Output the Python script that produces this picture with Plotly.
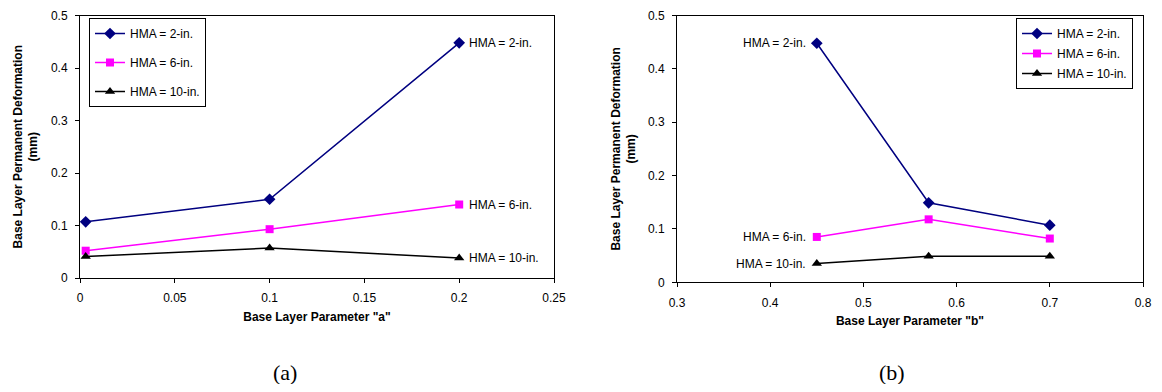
import plotly.graph_objects as go

# ---- data ----
a_x = [0.003, 0.1, 0.2]
a_hma2 = [0.107, 0.150, 0.448]
a_hma6 = [0.052, 0.093, 0.140]
a_hma10 = [0.041, 0.057, 0.038]

b_x = [0.45, 0.57, 0.70]
b_hma2 = [0.448, 0.149, 0.107]
b_hma6 = [0.085, 0.118, 0.082]
b_hma10 = [0.035, 0.049, 0.049]

names = ["HMA = 2-in.", "HMA = 6-in.", "HMA = 10-in."]
colors = ["#000080", "#FF00FF", "#000000"]
symbols = ["diamond", "square", "triangle-up"]
msizes = [9, 8, 9]

OFF = 8  # page body margin
W, H = 1162 - OFF, 392 - 2 * OFF
FONT = "Liberation Sans, Arial, sans-serif"

fig = go.Figure()

for i, ys in enumerate([a_hma2, a_hma6, a_hma10]):
    fig.add_trace(go.Scatter(
        x=a_x, y=ys, mode="lines+markers", name=names[i],
        line=dict(color=colors[i], width=1.5),
        marker=dict(symbol=symbols[i], size=msizes[i], color=colors[i]),
        xaxis="x", yaxis="y", legend="legend", legendgroup="a%d" % i,
        cliponaxis=False))

for i, ys in enumerate([b_hma2, b_hma6, b_hma10]):
    fig.add_trace(go.Scatter(
        x=b_x, y=ys, mode="lines+markers", name=names[i],
        line=dict(color=colors[i], width=1.5),
        marker=dict(symbol=symbols[i], size=msizes[i], color=colors[i]),
        xaxis="x2", yaxis="y2", legend="legend2", legendgroup="b%d" % i,
        cliponaxis=False))

def px_x(p):
    return (p - OFF) / W

def px_y(p):
    return 1 - (p - OFF) / H

ax_common = dict(showline=True, linecolor="black", linewidth=1, mirror=True,
                 showgrid=False, zeroline=False, ticks="outside", ticklen=4,
                 automargin=False, ticklabelstandoff=5, ticklabeloverflow="allow",
                 tickcolor="black", tickfont=dict(family=FONT, size=12, color="black"))

ytitle = "Base Layer Permanent Deformation<br>(mm)"
TOP = 15.5

fig.update_layout(
    width=W, height=H,
    margin=dict(l=0, r=0, t=0, b=0),
    paper_bgcolor="white", plot_bgcolor="white",
    font=dict(family=FONT, size=12, color="black"),
    xaxis=dict(domain=[px_x(80), px_x(554)], range=[0, 0.25], tickvals=[0, 0.05, 0.1, 0.15, 0.2, 0.25],
               ticktext=["0", "0.05", "0.1", "0.15", "0.2", "0.25"], anchor="y",
               title=dict(text="<b>Base Layer Parameter \"a\"</b>", font=dict(size=12), standoff=8),
               **ax_common),
    yaxis=dict(domain=[px_y(278), px_y(TOP)], range=[0, 0.5], tickvals=[0, 0.1, 0.2, 0.3, 0.4, 0.5],
               ticktext=["0", "0.1", "0.2", "0.3", "0.4", "0.5"], anchor="x",
               title=dict(text="<b>" + ytitle + "</b>", font=dict(size=12), standoff=10),
               **ax_common),
    xaxis2=dict(domain=[px_x(677), px_x(1143)], range=[0.3, 0.8], tickvals=[0.3, 0.4, 0.5, 0.6, 0.7, 0.8],
                ticktext=["0.3", "0.4", "0.5", "0.6", "0.7", "0.8"], anchor="y2",
                title=dict(text="<b>Base Layer Parameter \"b\"</b>", font=dict(size=12), standoff=7),
                **ax_common),
    yaxis2=dict(domain=[px_y(282.3), px_y(TOP)], range=[0, 0.5], tickvals=[0, 0.1, 0.2, 0.3, 0.4, 0.5],
                ticktext=["0", "0.1", "0.2", "0.3", "0.4", "0.5"], anchor="x2",
                title=dict(text="<b>" + ytitle + "</b>", font=dict(size=12), standoff=9),
                **ax_common),
    legend=dict(x=px_x(89), y=px_y(18), xanchor="left", yanchor="top",
                bordercolor="black", borderwidth=1, bgcolor="white",
                font=dict(family=FONT, size=12, color="black"),
                tracegroupgap=10, itemwidth=30, traceorder="grouped"),
    legend2=dict(x=px_x(1016), y=px_y(18), xanchor="left", yanchor="top",
                 bordercolor="black", borderwidth=1, bgcolor="white",
                 font=dict(family=FONT, size=12, color="black"),
                 tracegroupgap=1, itemwidth=30, traceorder="grouped"),
    showlegend=True,
)

ann = []
# labels at right of last points in (a)
for i, ys in enumerate([a_hma2, a_hma6, a_hma10]):
    ann.append(dict(x=a_x[-1], y=ys[-1], xref="x", yref="y", text=names[i],
                    showarrow=False, xanchor="left", yanchor="middle", xshift=8,
                    font=dict(family=FONT, size=12, color="black")))
# labels at left of first points in (b)
for i, ys in enumerate([b_hma2, b_hma6, b_hma10]):
    ann.append(dict(x=b_x[0], y=ys[0], xref="x2", yref="y2", text=names[i],
                    showarrow=False, xanchor="right", yanchor="middle", xshift=-9,
                    font=dict(family=FONT, size=12, color="black")))
ann.append(dict(x=px_x(285), y=px_y(372), xref="paper", yref="paper", text="(a)",
                showarrow=False, xanchor="center", yanchor="middle",
                font=dict(family="Liberation Serif, Times New Roman, serif", size=22, color="black")))
ann.append(dict(x=px_x(892), y=px_y(372), xref="paper", yref="paper", text="(b)",
                showarrow=False, xanchor="center", yanchor="middle",
                font=dict(family="Liberation Serif, Times New Roman, serif", size=22, color="black")))
fig.update_layout(annotations=ann)

fig.write_html("out.html")
